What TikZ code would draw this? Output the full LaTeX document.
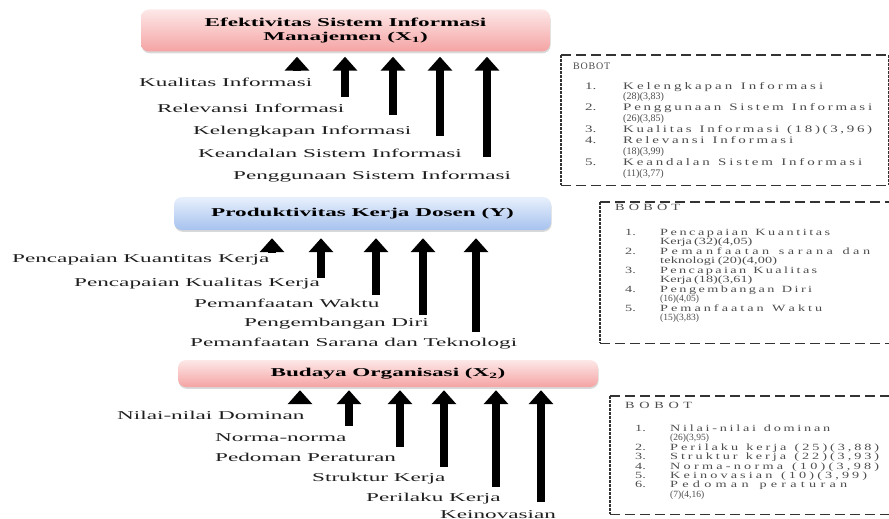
\documentclass[tikz,border=0pt]{standalone}
\usepackage{fontspec}
\setmainfont{Liberation Serif}
\newfontfamily\lblfont{Liberation Serif}[FakeStretch=1.93]
\newfontfamily\boxfont{Liberation Serif}[FakeStretch=1.5]
\usetikzlibrary{arrows.meta,shadows,calc}

\ExplSyntaxOn
\seq_new:N \l__sp_words_seq
\bool_new:N \l__sp_firstw_bool
\bool_new:N \l__sp_firstc_bool
\cs_new_protected:Npn \__sp_word:n #1
  {
    \bool_set_true:N \l__sp_firstc_bool
    \tl_map_inline:nn {#1}
      {
        \bool_if:NF \l__sp_firstc_bool { \hskip 0pt plus 1fil \relax }
        \bool_set_false:N \l__sp_firstc_bool
        ##1
      }
  }
\NewDocumentCommand \spreadline { m m }
  {
    \makebox[#1][s]
      {
        \seq_set_split:Nnn \l__sp_words_seq { ~ } {#2}
        \bool_set_true:N \l__sp_firstw_bool
        \seq_map_inline:Nn \l__sp_words_seq
          {
            \bool_if:NF \l__sp_firstw_bool { \hskip 0.25em plus 2fil \relax }
            \bool_set_false:N \l__sp_firstw_bool
            \__sp_word:n {##1}
          }
      }
  }
\ExplSyntaxOff
\newcommand\natl[1]{{\normalfont #1}}

\definecolor{pinkTop}{HTML}{FDE8E8}
\definecolor{pinkBot}{HTML}{F5A3A3}
\definecolor{blueTop}{HTML}{E8F0FC}
\definecolor{blueBot}{HTML}{A6C2EE}

\tikzset{
  titlebox/.style={rounded corners=8pt, inner sep=0pt, align=center,
    font=\lblfont\bfseries\fontsize{12}{14}\selectfont,
    drop shadow={shadow xshift=0.6pt, shadow yshift=-1.8pt, opacity=0.3}},
  pinkbox/.style={titlebox, top color=pinkTop, bottom color=pinkBot},
  bluebox/.style={titlebox, top color=blueTop, bottom color=blueBot},
  lbl/.style={anchor=base west, inner sep=0pt,
    font=\lblfont\fontsize{12}{14}\selectfont, text=black!88},
  bigarrow/.style={line width=8pt, -{Triangle[width=24pt,length=14pt]}},
  frame/.style={inner sep=0pt, anchor=north west},
  hdash/.style={line width=1.5pt, black!80, dash pattern=on 10pt off 5pt},
  vdash/.style={line width=1.8pt, black!80, dash pattern=on 2.7pt off 1.3pt},
  boxtxt/.style={anchor=base west, inner sep=0pt, text=black!70},
}

\begin{document}
\begin{tikzpicture}[x=1pt,y=-1pt]
\useasboundingbox (0,0) rectangle (889,519);
\clip (0,0) rectangle (889,519);

% ---------- title boxes ----------
\node[pinkbox, minimum width=409pt, minimum height=42pt] (t1) at (345.5,30.5)
  {Efektivitas Sistem Informasi\\Manajemen (X\textsubscript{1})};
\node[bluebox, minimum width=377pt, minimum height=33pt] (t2) at (362.5,213.5)
  {Produktivitas Kerja Dosen (Y)};
\node[pinkbox, minimum width=420pt, minimum height=27pt] (t3) at (388,373.5)
  {Budaya Organisasi (X\textsubscript{2})};

% ---------- labels: top ----------
\node[lbl] (k1) at (139,87)  {Kualitas Informasi};
\node[lbl] (k2) at (157,112) {Relevansi Informasi};
\node[lbl] (k3) at (193,134) {Kelengkapan Informasi};
\node[lbl] (k4) at (198,157) {Keandalan Sistem Informasi};
\node[lbl] (k5) at (233,179) {Penggunaan Sistem Informasi};

% ---------- labels: middle ----------
\node[lbl] (p1) at (12,262)  {Pencapaian Kuantitas Kerja};
\node[lbl] (p2) at (74,286)  {Pencapaian Kualitas Kerja};
\node[lbl] (p3) at (194,307) {Pemanfaatan Waktu};
\node[lbl] (p4) at (244,326) {Pengembangan Diri};
\node[lbl] (p5) at (190,346) {Pemanfaatan Sarana dan Teknologi};

% ---------- labels: bottom ----------
\node[lbl] (b1) at (117,419) {Nilai-nilai Dominan};
\node[lbl] (b2) at (215,441) {Norma-norma};
\node[lbl] (b3) at (215,461) {Pedoman Peraturan};
\node[lbl] (b4) at (312,481) {Struktur Kerja};
\node[lbl] (b5) at (366,501) {Perilaku Kerja};
\node[lbl] (b6) at (440,518) {Keinovasian};

% ---------- arrows: top ----------
\coordinate (ka1) at (297,71);
\coordinate (ka2) at (345,97);
\coordinate (ka3) at (393,115);
\coordinate (ka4) at (440,136);
\coordinate (ka5) at (487,157);
\foreach \c in {ka1,ka2,ka3,ka4,ka5}
  \draw[bigarrow, shorten >=5pt] (\c) -- (\c |- t1.south);

% ---------- arrows: middle ----------
\coordinate (pa1) at (272,253);
\coordinate (pa2) at (321,278);
\coordinate (pa3) at (376,295);
\coordinate (pa4) at (423,315);
\coordinate (pa5) at (476,332);
\foreach \c in {pa1,pa2,pa3,pa4,pa5}
  \draw[bigarrow, shorten >=8pt] (\c) -- (\c |- t2.south);

% ---------- arrows: bottom ----------
\coordinate (ba1) at (300,403);
\coordinate (ba2) at (349,426);
\coordinate (ba3) at (400,447);
\coordinate (ba4) at (444,467);
\coordinate (ba5) at (496,487);
\coordinate (ba6) at (541,502);
\foreach \c in {ba1,ba2,ba3,ba4,ba5,ba6}
  \draw[bigarrow, shorten >=3pt] (\c) -- (\c |- t3.south);

% ---------- dashed frames ----------
\node[frame, minimum width=327pt, minimum height=130pt] (w1) at (561,55) {};
\draw[hdash] (w1.north west) -- (w1.north east);
\draw[hdash] (w1.south west) -- (w1.south east);
\draw[vdash] (w1.north west) -- (w1.south west);
\draw[vdash] (w1.north east) -- (w1.south east);

\node[frame, minimum width=300pt, minimum height=141pt] (w2) at (600,202) {};
\draw[hdash] (w2.north west) -- (w2.north east);
\draw[hdash] (w2.south west) -- (w2.south east);
\draw[vdash] (w2.north west) -- (w2.south west);

\node[frame, minimum width=300pt, minimum height=118pt] (w3) at (610,396) {};
\draw[hdash] (w3.north west) -- (w3.north east);
\draw[hdash] (w3.south west) -- (w3.south east);
\draw[vdash] (w3.north west) -- (w3.south west);

% ---------- frame texts ----------
\node[boxtxt, font=\boxfont\fontsize{10}{10.9}\selectfont] (h1) at (573,69.5) {\natl{\spreadline{37pt}{BOBOT}}};
\node[boxtxt, font=\boxfont\fontsize{10}{10.9}\selectfont] (l1) at (585,89) {%
\begin{tabular}[t]{@{}p{38pt}@{}l@{}}
1. & \spreadline{200pt}{Kelengkapan Informasi}\\
   & \natl{(28)(3,83)}\\
2. & \spreadline{249pt}{Penggunaan Sistem Informasi}\\
   & \natl{(26)(3,85)}\\
3. & \spreadline{249pt}{Kualitas Informasi (18)(3,96)}\\
4. & \spreadline{170pt}{Relevansi Informasi}\\
   & \natl{(18)(3,99)}\\
5. & \spreadline{239pt}{Keandalan Sistem Informasi}\\
   & \natl{(11)(3,77)}
\end{tabular}};

\node[boxtxt, font=\boxfont\fontsize{9.5}{9.44}\selectfont] (h2) at (615,210.5) {\spreadline{65pt}{BOBOT}};
\node[boxtxt, font=\boxfont\fontsize{9.5}{9.44}\selectfont] (l2) at (625,235.5) {%
\begin{tabular}[t]{@{}p{35pt}@{}l@{}}
1. & \spreadline{170pt}{Pencapaian Kuantitas}\\
   & \spreadline{92pt}{Kerja (32)(4,05)}\\
2. & \spreadline{210pt}{Pemanfaatan sarana dan}\\
   & \spreadline{117pt}{teknologi (20)(4,00)}\\
3. & \spreadline{157pt}{Pencapaian Kualitas}\\
   & \spreadline{87pt}{Kerja (18)(3,61)}\\
4. & \spreadline{152pt}{Pengembangan Diri}\\
   & \natl{(16)(4,05)}\\
5. & \spreadline{162pt}{Pemanfaatan Waktu}\\
   & \natl{(15)(3,83)}
\end{tabular}};

\node[boxtxt, font=\boxfont\fontsize{9.5}{9.3}\selectfont] (h3) at (625,408.5) {\spreadline{67pt}{BOBOT}};
\node[boxtxt, font=\boxfont\fontsize{9.5}{9.3}\selectfont] (l3) at (635,431.5) {%
\begin{tabular}[t]{@{}p{35pt}@{}l@{}}
1. & \spreadline{160pt}{Nilai-nilai dominan}\\
   & \natl{(26)(3,95)}\\
2. & \spreadline{209pt}{Perilaku kerja (25)(3,88)}\\
3. & \spreadline{209pt}{Struktur kerja (22)(3,93)}\\
4. & \spreadline{209pt}{Norma-norma (10)(3,98)}\\
5. & \spreadline{197pt}{Keinovasian (10)(3,99)}\\
6. & \spreadline{177pt}{Pedoman peraturan}\\
   & \natl{(7)(4,16)}
\end{tabular}};
\end{tikzpicture}
\end{document}
